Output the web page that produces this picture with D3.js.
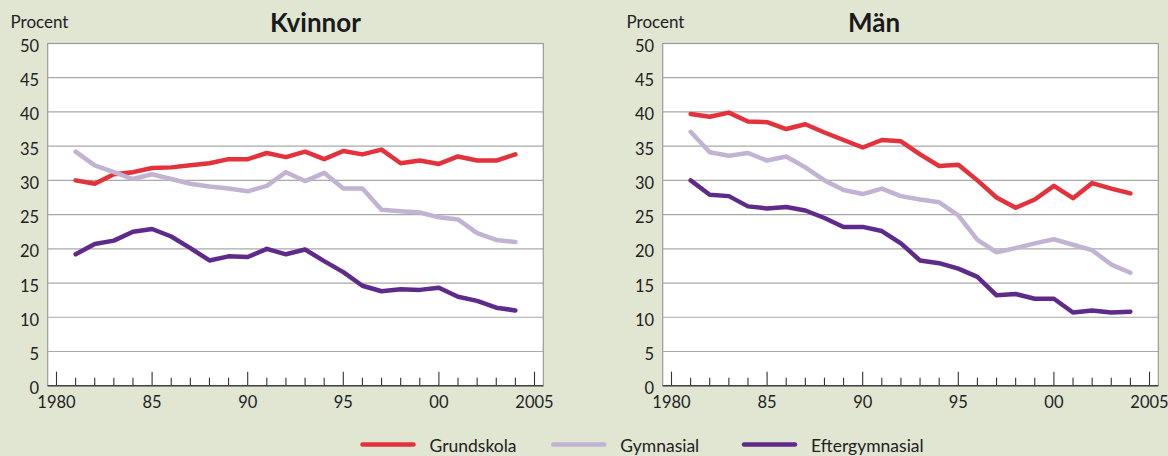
<!DOCTYPE html>
<html><head><meta charset="utf-8">
<script src="https://cdn.jsdelivr.net/npm/d3@7"></script>
<style>
html,body{margin:0;padding:0;background:#e1e6d3;}
svg{display:block;font-family:Lato,"Open Sans",sans-serif;}
</style></head>
<body><svg id="c" width="1168" height="456"></svg>
<script>
const years = d3.range(1981, 2005);
const yTicks = [0,5,10,15,20,25,30,35,40,45,50];
const xMajor = [1980,1985,1990,1995,2000,2005];
const xLabels = ["1980","85","90","95","00","2005"];
const seriesNames = ["Grundskola","Gymnasial","Eftergymnasial"];
const colors = ["#e3323b","#c2b3d3","#5f2b8b"];

const kvGrund = [30.0,29.5,30.9,31.2,31.8,31.9,32.2,32.5,33.1,33.1,34.0,33.4,34.2,33.1,34.3,33.8,34.5,32.5,32.9,32.4,33.5,32.9,32.9,33.8];
const kvGymn  = [34.2,32.2,31.2,30.2,30.9,30.2,29.5,29.1,28.8,28.4,29.2,31.2,29.9,31.1,28.8,28.8,25.7,25.5,25.3,24.6,24.3,22.3,21.3,21.0];
const kvEfter = [19.2,20.7,21.2,22.5,22.9,21.8,20.1,18.3,18.9,18.8,20.0,19.2,19.9,18.2,16.6,14.6,13.8,14.1,14.0,14.3,13.0,12.4,11.4,11.0];

const manGrund = [39.7,39.3,39.9,38.6,38.5,37.5,38.2,37.0,35.9,34.8,35.9,35.7,33.8,32.1,32.3,30.0,27.5,26.0,27.2,29.2,27.4,29.6,28.8,28.1];
const manGymn  = [37.1,34.1,33.6,34.0,32.9,33.5,31.9,30.0,28.6,28.0,28.8,27.7,27.2,26.8,24.9,21.3,19.5,20.1,20.8,21.4,20.6,19.8,17.7,16.5];
const manEfter = [30.0,27.9,27.7,26.2,25.9,26.1,25.6,24.5,23.2,23.2,22.6,20.8,18.3,17.9,17.1,15.9,13.2,13.4,12.7,12.7,10.7,11.0,10.7,10.8];

const svg = d3.select("#c");

function panel(title, titleX, x0, x1, data, procentX) {
  const x = d3.scaleLinear().domain([1979.54, 2005.46]).range([x0, x1]);
  const y = d3.scaleLinear().domain([0, 50]).range([385.7, 43.5]);
  const g = svg.append("g");
  g.append("rect").attr("x", x0).attr("y", y(50)).attr("width", x1 - x0).attr("height", y(0) - y(50))
    .attr("fill", "#fff").attr("stroke", "#9a9a9a").attr("stroke-width", 1.2);
  g.selectAll("line.grid").data(yTicks.filter(d => d > 0 && d < 50)).join("line")
    .attr("x1", x0).attr("x2", x1).attr("y1", d => y(d)).attr("y2", d => y(d))
    .attr("stroke", "#a9a9a9").attr("stroke-width", 1.2);
  g.selectAll("text.yl").data(yTicks).join("text")
    .attr("x", x0 - 8.5).attr("y", d => y(d) + 8.5).attr("text-anchor", "end")
    .attr("font-size", 16.5).attr("fill", "#222").text(d => d);
  const allYears = d3.range(1980, 2006);
  g.selectAll("line.tk").data(allYears).join("line")
    .attr("x1", d => x(d)).attr("x2", d => x(d))
    .attr("y1", y(0)).attr("y2", d => y(0) - (d % 5 === 0 ? 14 : 8))
    .attr("stroke", "#333").attr("stroke-width", 1.1);
  g.append("line").attr("x1", x0).attr("x2", x1).attr("y1", y(0)).attr("y2", y(0))
    .attr("stroke", "#444").attr("stroke-width", 1.6);
  g.selectAll("text.xl").data(xMajor).join("text")
    .attr("x", d => x(d)).attr("y", 408).attr("text-anchor", "middle")
    .attr("font-size", 16.5).attr("fill", "#222").text((d, i) => xLabels[i]);
  const line = d3.line().x((d, i) => x(years[i])).y(d => y(d));
  data.forEach((s, k) => {
    g.append("path").datum(s).attr("d", line).attr("fill", "none")
      .attr("stroke", colors[k]).attr("stroke-width", 4.5)
      .attr("stroke-linejoin", "round").attr("stroke-linecap", "round");
  });
  g.append("text").attr("x", titleX).attr("y", 32).attr("text-anchor", "middle")
    .attr("font-size", 26).attr("font-weight", "bold").attr("fill", "#1a1a1a").text(title);
  g.append("text").attr("x", procentX).attr("y", 28).attr("font-size", 17).attr("fill", "#222").text("Procent");
}

panel("Kvinnor", 315.5, 47.7, 543.3, [kvGrund, kvGymn, kvEfter], 10.5);
panel("Män", 874, 662.7, 1158.3, [manGrund, manGymn, manEfter], 626.5);

const legX = [362.5, 553.3, 744];
const lg = svg.append("g");
seriesNames.forEach((n, i) => {
  lg.append("line").attr("x1", legX[i]).attr("x2", legX[i] + 51).attr("y1", 444.5).attr("y2", 444.5)
    .attr("stroke", colors[i]).attr("stroke-width", 4.5).attr("stroke-linecap", "round");
  lg.append("text").attr("x", legX[i] + 67).attr("y", 451.5).attr("font-size", 17.5).attr("fill", "#222").text(n);
});
</script></body></html>
